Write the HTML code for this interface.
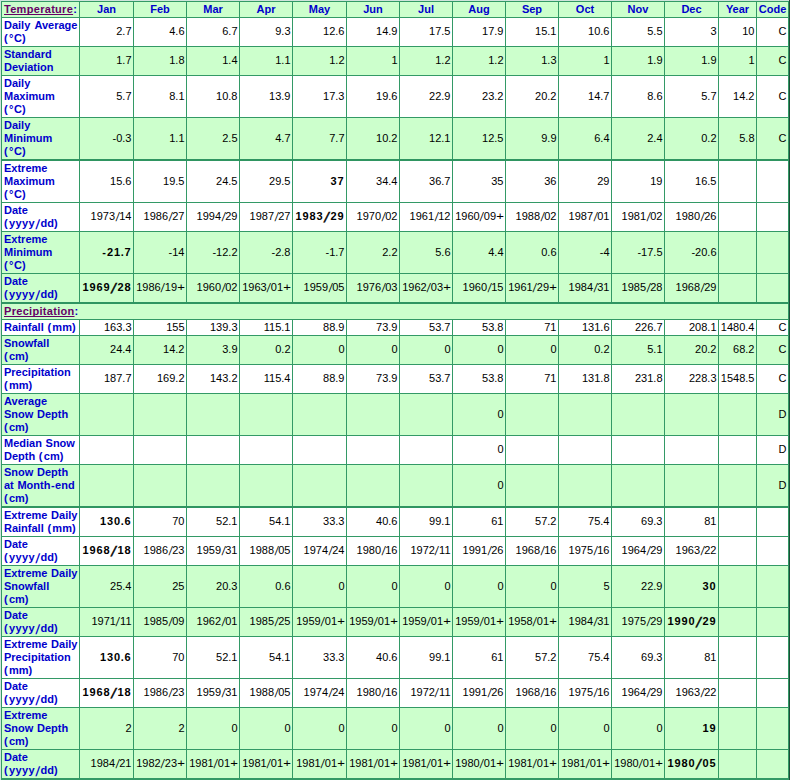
<!DOCTYPE html><html><head><meta charset="utf-8"><title>Climate</title><style>
html,body{margin:0;padding:0;background:#fff;}
body{width:790px;height:780px;overflow:hidden;position:relative;font-family:"Liberation Sans",sans-serif;font-size:11px;line-height:13px;}
#wrap{position:absolute;left:0;top:0;width:790px;height:780px;background:#339966;}
.edgeL{position:absolute;left:0;top:0;width:1px;height:780px;background:#d0e4dc;}
.edgeT{position:absolute;left:0;top:0;width:789px;height:1px;background:#d0e4dc;}
.edgeR{position:absolute;left:789px;top:0;width:1px;height:780px;background:#1d4d38;}
.sep{position:absolute;left:1px;width:788px;height:2px;background:#2f9561;}
.c{position:absolute;overflow:hidden;}
.t{position:absolute;white-space:nowrap;}
.lb{color:#0000cc;font-weight:bold;left:2px;}
.hd{color:#0000cc;font-weight:bold;left:0;right:0;text-align:center;}
.nm{color:#000;right:1.5px;text-align:right;}
.bn{font-weight:bold;right:2px;}
.bn span{display:inline-block;text-align:center;}
.bn .sl2{transform:translateY(1.2px) scaleY(1.25) skewX(-24deg);-webkit-text-stroke:0.5px #000;}
.rs{display:inline-block;margin:0 0.55px;transform:translateY(0.8px) scaleY(1.12) skewX(-10deg);}
.rp{display:inline-block;margin-left:1px;transform:scaleX(1.2);}
.sl{display:inline-block;transform:translateY(1.2px) scaleY(1.22) skewX(-14deg);}
a{color:#660066;text-decoration:underline;text-decoration-skip-ink:none;letter-spacing:0.3px;}
</style></head><body><div id="wrap">
<div class="c" style="left:2px;top:2px;width:77px;height:15px;background:#ccffcc"><div class="t lb" style="top:1px"><a>Temperature</a>:</div></div>
<div class="c" style="left:80px;top:2px;width:53px;height:15px;background:#ccffcc"><div class="t hd" style="top:1px">Jan</div></div>
<div class="c" style="left:134px;top:2px;width:52px;height:15px;background:#ccffcc"><div class="t hd" style="top:1px">Feb</div></div>
<div class="c" style="left:187px;top:2px;width:52px;height:15px;background:#ccffcc"><div class="t hd" style="top:1px">Mar</div></div>
<div class="c" style="left:240px;top:2px;width:52px;height:15px;background:#ccffcc"><div class="t hd" style="top:1px">Apr</div></div>
<div class="c" style="left:293px;top:2px;width:53px;height:15px;background:#ccffcc"><div class="t hd" style="top:1px">May</div></div>
<div class="c" style="left:347px;top:2px;width:52px;height:15px;background:#ccffcc"><div class="t hd" style="top:1px">Jun</div></div>
<div class="c" style="left:400px;top:2px;width:52px;height:15px;background:#ccffcc"><div class="t hd" style="top:1px">Jul</div></div>
<div class="c" style="left:453px;top:2px;width:52px;height:15px;background:#ccffcc"><div class="t hd" style="top:1px">Aug</div></div>
<div class="c" style="left:506px;top:2px;width:52px;height:15px;background:#ccffcc"><div class="t hd" style="top:1px">Sep</div></div>
<div class="c" style="left:559px;top:2px;width:52px;height:15px;background:#ccffcc"><div class="t hd" style="top:1px">Oct</div></div>
<div class="c" style="left:612px;top:2px;width:52px;height:15px;background:#ccffcc"><div class="t hd" style="top:1px">Nov</div></div>
<div class="c" style="left:665px;top:2px;width:53px;height:15px;background:#ccffcc"><div class="t hd" style="top:1px">Dec</div></div>
<div class="c" style="left:719px;top:2px;width:37px;height:15px;background:#ccffcc"><div class="t hd" style="top:1px">Year</div></div>
<div class="c" style="left:757px;top:2px;width:31px;height:15px;background:#ccffcc"><div class="t hd" style="top:1px">Code</div></div>
<div class="c" style="left:2px;top:18px;width:77px;height:28px;background:#ffffff"><div class="t lb" style="top:1px">Dail<span style="letter-spacing:0.4px">y</span><span style="letter-spacing:0.6px"> </span>Average<br><span style="letter-spacing:1.3px">(</span><span style="letter-spacing:0.7px">°</span>C)</div></div>
<div class="c" style="left:80px;top:18px;width:53px;height:28px;background:#ffffff"><div class="t nm" style="top:7px">2.7</div></div>
<div class="c" style="left:134px;top:18px;width:52px;height:28px;background:#ffffff"><div class="t nm" style="top:7px">4.6</div></div>
<div class="c" style="left:187px;top:18px;width:52px;height:28px;background:#ffffff"><div class="t nm" style="top:7px">6.7</div></div>
<div class="c" style="left:240px;top:18px;width:52px;height:28px;background:#ffffff"><div class="t nm" style="top:7px">9.3</div></div>
<div class="c" style="left:293px;top:18px;width:53px;height:28px;background:#ffffff"><div class="t nm" style="top:7px">12.6</div></div>
<div class="c" style="left:347px;top:18px;width:52px;height:28px;background:#ffffff"><div class="t nm" style="top:7px">14.9</div></div>
<div class="c" style="left:400px;top:18px;width:52px;height:28px;background:#ffffff"><div class="t nm" style="top:7px">17.5</div></div>
<div class="c" style="left:453px;top:18px;width:52px;height:28px;background:#ffffff"><div class="t nm" style="top:7px">17.9</div></div>
<div class="c" style="left:506px;top:18px;width:52px;height:28px;background:#ffffff"><div class="t nm" style="top:7px">15.1</div></div>
<div class="c" style="left:559px;top:18px;width:52px;height:28px;background:#ffffff"><div class="t nm" style="top:7px">10.6</div></div>
<div class="c" style="left:612px;top:18px;width:52px;height:28px;background:#ffffff"><div class="t nm" style="top:7px">5.5</div></div>
<div class="c" style="left:665px;top:18px;width:53px;height:28px;background:#ffffff"><div class="t nm" style="top:7px">3</div></div>
<div class="c" style="left:719px;top:18px;width:37px;height:28px;background:#ffffff"><div class="t nm" style="top:7px">10</div></div>
<div class="c" style="left:757px;top:18px;width:31px;height:28px;background:#ffffff"><div class="t nm" style="top:7px">C</div></div>
<div class="c" style="left:2px;top:47px;width:77px;height:28px;background:#ccffcc"><div class="t lb" style="top:1px">Standard<br>Deviation</div></div>
<div class="c" style="left:80px;top:47px;width:53px;height:28px;background:#ccffcc"><div class="t nm" style="top:7px">1.7</div></div>
<div class="c" style="left:134px;top:47px;width:52px;height:28px;background:#ccffcc"><div class="t nm" style="top:7px">1.8</div></div>
<div class="c" style="left:187px;top:47px;width:52px;height:28px;background:#ccffcc"><div class="t nm" style="top:7px">1.4</div></div>
<div class="c" style="left:240px;top:47px;width:52px;height:28px;background:#ccffcc"><div class="t nm" style="top:7px">1.1</div></div>
<div class="c" style="left:293px;top:47px;width:53px;height:28px;background:#ccffcc"><div class="t nm" style="top:7px">1.2</div></div>
<div class="c" style="left:347px;top:47px;width:52px;height:28px;background:#ccffcc"><div class="t nm" style="top:7px">1</div></div>
<div class="c" style="left:400px;top:47px;width:52px;height:28px;background:#ccffcc"><div class="t nm" style="top:7px">1.2</div></div>
<div class="c" style="left:453px;top:47px;width:52px;height:28px;background:#ccffcc"><div class="t nm" style="top:7px">1.2</div></div>
<div class="c" style="left:506px;top:47px;width:52px;height:28px;background:#ccffcc"><div class="t nm" style="top:7px">1.3</div></div>
<div class="c" style="left:559px;top:47px;width:52px;height:28px;background:#ccffcc"><div class="t nm" style="top:7px">1</div></div>
<div class="c" style="left:612px;top:47px;width:52px;height:28px;background:#ccffcc"><div class="t nm" style="top:7px">1.9</div></div>
<div class="c" style="left:665px;top:47px;width:53px;height:28px;background:#ccffcc"><div class="t nm" style="top:7px">1.9</div></div>
<div class="c" style="left:719px;top:47px;width:37px;height:28px;background:#ccffcc"><div class="t nm" style="top:7px">1</div></div>
<div class="c" style="left:757px;top:47px;width:31px;height:28px;background:#ccffcc"><div class="t nm" style="top:7px">C</div></div>
<div class="c" style="left:2px;top:76px;width:77px;height:41px;background:#ffffff"><div class="t lb" style="top:1px">Dail<span style="letter-spacing:0.4px">y</span><br>Maximum<br><span style="letter-spacing:1.3px">(</span><span style="letter-spacing:0.7px">°</span>C)</div></div>
<div class="c" style="left:80px;top:76px;width:53px;height:41px;background:#ffffff"><div class="t nm" style="top:14px">5.7</div></div>
<div class="c" style="left:134px;top:76px;width:52px;height:41px;background:#ffffff"><div class="t nm" style="top:14px">8.1</div></div>
<div class="c" style="left:187px;top:76px;width:52px;height:41px;background:#ffffff"><div class="t nm" style="top:14px">10.8</div></div>
<div class="c" style="left:240px;top:76px;width:52px;height:41px;background:#ffffff"><div class="t nm" style="top:14px">13.9</div></div>
<div class="c" style="left:293px;top:76px;width:53px;height:41px;background:#ffffff"><div class="t nm" style="top:14px">17.3</div></div>
<div class="c" style="left:347px;top:76px;width:52px;height:41px;background:#ffffff"><div class="t nm" style="top:14px">19.6</div></div>
<div class="c" style="left:400px;top:76px;width:52px;height:41px;background:#ffffff"><div class="t nm" style="top:14px">22.9</div></div>
<div class="c" style="left:453px;top:76px;width:52px;height:41px;background:#ffffff"><div class="t nm" style="top:14px">23.2</div></div>
<div class="c" style="left:506px;top:76px;width:52px;height:41px;background:#ffffff"><div class="t nm" style="top:14px">20.2</div></div>
<div class="c" style="left:559px;top:76px;width:52px;height:41px;background:#ffffff"><div class="t nm" style="top:14px">14.7</div></div>
<div class="c" style="left:612px;top:76px;width:52px;height:41px;background:#ffffff"><div class="t nm" style="top:14px">8.6</div></div>
<div class="c" style="left:665px;top:76px;width:53px;height:41px;background:#ffffff"><div class="t nm" style="top:14px">5.7</div></div>
<div class="c" style="left:719px;top:76px;width:37px;height:41px;background:#ffffff"><div class="t nm" style="top:14px">14.2</div></div>
<div class="c" style="left:757px;top:76px;width:31px;height:41px;background:#ffffff"><div class="t nm" style="top:14px">C</div></div>
<div class="c" style="left:2px;top:118px;width:77px;height:41px;background:#ccffcc"><div class="t lb" style="top:1px">Dail<span style="letter-spacing:0.4px">y</span><br>Minimum<br><span style="letter-spacing:1.3px">(</span><span style="letter-spacing:0.7px">°</span>C)</div></div>
<div class="c" style="left:80px;top:118px;width:53px;height:41px;background:#ccffcc"><div class="t nm" style="top:14px">-0.3</div></div>
<div class="c" style="left:134px;top:118px;width:52px;height:41px;background:#ccffcc"><div class="t nm" style="top:14px">1.1</div></div>
<div class="c" style="left:187px;top:118px;width:52px;height:41px;background:#ccffcc"><div class="t nm" style="top:14px">2.5</div></div>
<div class="c" style="left:240px;top:118px;width:52px;height:41px;background:#ccffcc"><div class="t nm" style="top:14px">4.7</div></div>
<div class="c" style="left:293px;top:118px;width:53px;height:41px;background:#ccffcc"><div class="t nm" style="top:14px">7.7</div></div>
<div class="c" style="left:347px;top:118px;width:52px;height:41px;background:#ccffcc"><div class="t nm" style="top:14px">10.2</div></div>
<div class="c" style="left:400px;top:118px;width:52px;height:41px;background:#ccffcc"><div class="t nm" style="top:14px">12.1</div></div>
<div class="c" style="left:453px;top:118px;width:52px;height:41px;background:#ccffcc"><div class="t nm" style="top:14px">12.5</div></div>
<div class="c" style="left:506px;top:118px;width:52px;height:41px;background:#ccffcc"><div class="t nm" style="top:14px">9.9</div></div>
<div class="c" style="left:559px;top:118px;width:52px;height:41px;background:#ccffcc"><div class="t nm" style="top:14px">6.4</div></div>
<div class="c" style="left:612px;top:118px;width:52px;height:41px;background:#ccffcc"><div class="t nm" style="top:14px">2.4</div></div>
<div class="c" style="left:665px;top:118px;width:53px;height:41px;background:#ccffcc"><div class="t nm" style="top:14px">0.2</div></div>
<div class="c" style="left:719px;top:118px;width:37px;height:41px;background:#ccffcc"><div class="t nm" style="top:14px">5.8</div></div>
<div class="c" style="left:757px;top:118px;width:31px;height:41px;background:#ccffcc"><div class="t nm" style="top:14px">C</div></div>
<div class="c" style="left:2px;top:161px;width:77px;height:41px;background:#ffffff"><div class="t lb" style="top:1px">Extreme<br>Maximum<br><span style="letter-spacing:1.3px">(</span><span style="letter-spacing:0.7px">°</span>C)</div></div>
<div class="c" style="left:80px;top:161px;width:53px;height:41px;background:#ffffff"><div class="t nm" style="top:14px">15.6</div></div>
<div class="c" style="left:134px;top:161px;width:52px;height:41px;background:#ffffff"><div class="t nm" style="top:14px">19.5</div></div>
<div class="c" style="left:187px;top:161px;width:52px;height:41px;background:#ffffff"><div class="t nm" style="top:14px">24.5</div></div>
<div class="c" style="left:240px;top:161px;width:52px;height:41px;background:#ffffff"><div class="t nm" style="top:14px">29.5</div></div>
<div class="c" style="left:293px;top:161px;width:53px;height:41px;background:#ffffff"><div class="t nm bn" style="top:14px"><span style="width:7px">3</span><span style="width:7px">7</span></div></div>
<div class="c" style="left:347px;top:161px;width:52px;height:41px;background:#ffffff"><div class="t nm" style="top:14px">34.4</div></div>
<div class="c" style="left:400px;top:161px;width:52px;height:41px;background:#ffffff"><div class="t nm" style="top:14px">36.7</div></div>
<div class="c" style="left:453px;top:161px;width:52px;height:41px;background:#ffffff"><div class="t nm" style="top:14px">35</div></div>
<div class="c" style="left:506px;top:161px;width:52px;height:41px;background:#ffffff"><div class="t nm" style="top:14px">36</div></div>
<div class="c" style="left:559px;top:161px;width:52px;height:41px;background:#ffffff"><div class="t nm" style="top:14px">29</div></div>
<div class="c" style="left:612px;top:161px;width:52px;height:41px;background:#ffffff"><div class="t nm" style="top:14px">19</div></div>
<div class="c" style="left:665px;top:161px;width:53px;height:41px;background:#ffffff"><div class="t nm" style="top:14px">16.5</div></div>
<div class="c" style="left:719px;top:161px;width:37px;height:41px;background:#ffffff"></div>
<div class="c" style="left:757px;top:161px;width:31px;height:41px;background:#ffffff"></div>
<div class="c" style="left:2px;top:203px;width:77px;height:28px;background:#ffffff"><div class="t lb" style="top:1px">Date<br><span style="letter-spacing:1.3px">(</span><span style="letter-spacing:0.4px">y</span><span style="letter-spacing:0.4px">y</span><span style="letter-spacing:0.4px">y</span><span style="letter-spacing:0.4px">y</span><span class="sl" style="margin:0 1.15px">/</span>dd)</div></div>
<div class="c" style="left:80px;top:203px;width:53px;height:28px;background:#ffffff"><div class="t nm" style="top:7px">1973<span class="rs">/</span>14</div></div>
<div class="c" style="left:134px;top:203px;width:52px;height:28px;background:#ffffff"><div class="t nm" style="top:7px">1986<span class="rs">/</span>27</div></div>
<div class="c" style="left:187px;top:203px;width:52px;height:28px;background:#ffffff"><div class="t nm" style="top:7px">1994<span class="rs">/</span>29</div></div>
<div class="c" style="left:240px;top:203px;width:52px;height:28px;background:#ffffff"><div class="t nm" style="top:7px">1987<span class="rs">/</span>27</div></div>
<div class="c" style="left:293px;top:203px;width:53px;height:28px;background:#ffffff"><div class="t nm bn" style="top:7px"><span style="width:7px">1</span><span style="width:7px">9</span><span style="width:7px">8</span><span style="width:7px">3</span><span class="sl2" style="width:7px">/</span><span style="width:7px">2</span><span style="width:7px">9</span></div></div>
<div class="c" style="left:347px;top:203px;width:52px;height:28px;background:#ffffff"><div class="t nm" style="top:7px">1970<span class="rs">/</span>02</div></div>
<div class="c" style="left:400px;top:203px;width:52px;height:28px;background:#ffffff"><div class="t nm" style="top:7px">1961<span class="rs">/</span>12</div></div>
<div class="c" style="left:453px;top:203px;width:52px;height:28px;background:#ffffff"><div class="t nm" style="top:7px">1960<span class="rs">/</span>09<span class="rp">+</span></div></div>
<div class="c" style="left:506px;top:203px;width:52px;height:28px;background:#ffffff"><div class="t nm" style="top:7px">1988<span class="rs">/</span>02</div></div>
<div class="c" style="left:559px;top:203px;width:52px;height:28px;background:#ffffff"><div class="t nm" style="top:7px">1987<span class="rs">/</span>01</div></div>
<div class="c" style="left:612px;top:203px;width:52px;height:28px;background:#ffffff"><div class="t nm" style="top:7px">1981<span class="rs">/</span>02</div></div>
<div class="c" style="left:665px;top:203px;width:53px;height:28px;background:#ffffff"><div class="t nm" style="top:7px">1980<span class="rs">/</span>26</div></div>
<div class="c" style="left:719px;top:203px;width:37px;height:28px;background:#ffffff"></div>
<div class="c" style="left:757px;top:203px;width:31px;height:28px;background:#ffffff"></div>
<div class="c" style="left:2px;top:232px;width:77px;height:41px;background:#ccffcc"><div class="t lb" style="top:1px">Extreme<br>Minimum<br><span style="letter-spacing:1.3px">(</span><span style="letter-spacing:0.7px">°</span>C)</div></div>
<div class="c" style="left:80px;top:232px;width:53px;height:41px;background:#ccffcc"><div class="t nm bn" style="top:14px"><span style="width:5px">-</span><span style="width:7px">2</span><span style="width:7px">1</span><span style="width:3.5px">.</span><span style="width:7px">7</span></div></div>
<div class="c" style="left:134px;top:232px;width:52px;height:41px;background:#ccffcc"><div class="t nm" style="top:14px">-14</div></div>
<div class="c" style="left:187px;top:232px;width:52px;height:41px;background:#ccffcc"><div class="t nm" style="top:14px">-12.2</div></div>
<div class="c" style="left:240px;top:232px;width:52px;height:41px;background:#ccffcc"><div class="t nm" style="top:14px">-2.8</div></div>
<div class="c" style="left:293px;top:232px;width:53px;height:41px;background:#ccffcc"><div class="t nm" style="top:14px">-1.7</div></div>
<div class="c" style="left:347px;top:232px;width:52px;height:41px;background:#ccffcc"><div class="t nm" style="top:14px">2.2</div></div>
<div class="c" style="left:400px;top:232px;width:52px;height:41px;background:#ccffcc"><div class="t nm" style="top:14px">5.6</div></div>
<div class="c" style="left:453px;top:232px;width:52px;height:41px;background:#ccffcc"><div class="t nm" style="top:14px">4.4</div></div>
<div class="c" style="left:506px;top:232px;width:52px;height:41px;background:#ccffcc"><div class="t nm" style="top:14px">0.6</div></div>
<div class="c" style="left:559px;top:232px;width:52px;height:41px;background:#ccffcc"><div class="t nm" style="top:14px">-4</div></div>
<div class="c" style="left:612px;top:232px;width:52px;height:41px;background:#ccffcc"><div class="t nm" style="top:14px">-17.5</div></div>
<div class="c" style="left:665px;top:232px;width:53px;height:41px;background:#ccffcc"><div class="t nm" style="top:14px">-20.6</div></div>
<div class="c" style="left:719px;top:232px;width:37px;height:41px;background:#ccffcc"></div>
<div class="c" style="left:757px;top:232px;width:31px;height:41px;background:#ccffcc"></div>
<div class="c" style="left:2px;top:274px;width:77px;height:28px;background:#ccffcc"><div class="t lb" style="top:1px">Date<br><span style="letter-spacing:1.3px">(</span><span style="letter-spacing:0.4px">y</span><span style="letter-spacing:0.4px">y</span><span style="letter-spacing:0.4px">y</span><span style="letter-spacing:0.4px">y</span><span class="sl" style="margin:0 1.15px">/</span>dd)</div></div>
<div class="c" style="left:80px;top:274px;width:53px;height:28px;background:#ccffcc"><div class="t nm bn" style="top:7px"><span style="width:7px">1</span><span style="width:7px">9</span><span style="width:7px">6</span><span style="width:7px">9</span><span class="sl2" style="width:7px">/</span><span style="width:7px">2</span><span style="width:7px">8</span></div></div>
<div class="c" style="left:134px;top:274px;width:52px;height:28px;background:#ccffcc"><div class="t nm" style="top:7px">1986<span class="rs">/</span>19<span class="rp">+</span></div></div>
<div class="c" style="left:187px;top:274px;width:52px;height:28px;background:#ccffcc"><div class="t nm" style="top:7px">1960<span class="rs">/</span>02</div></div>
<div class="c" style="left:240px;top:274px;width:52px;height:28px;background:#ccffcc"><div class="t nm" style="top:7px">1963<span class="rs">/</span>01<span class="rp">+</span></div></div>
<div class="c" style="left:293px;top:274px;width:53px;height:28px;background:#ccffcc"><div class="t nm" style="top:7px">1959<span class="rs">/</span>05</div></div>
<div class="c" style="left:347px;top:274px;width:52px;height:28px;background:#ccffcc"><div class="t nm" style="top:7px">1976<span class="rs">/</span>03</div></div>
<div class="c" style="left:400px;top:274px;width:52px;height:28px;background:#ccffcc"><div class="t nm" style="top:7px">1962<span class="rs">/</span>03<span class="rp">+</span></div></div>
<div class="c" style="left:453px;top:274px;width:52px;height:28px;background:#ccffcc"><div class="t nm" style="top:7px">1960<span class="rs">/</span>15</div></div>
<div class="c" style="left:506px;top:274px;width:52px;height:28px;background:#ccffcc"><div class="t nm" style="top:7px">1961<span class="rs">/</span>29<span class="rp">+</span></div></div>
<div class="c" style="left:559px;top:274px;width:52px;height:28px;background:#ccffcc"><div class="t nm" style="top:7px">1984<span class="rs">/</span>31</div></div>
<div class="c" style="left:612px;top:274px;width:52px;height:28px;background:#ccffcc"><div class="t nm" style="top:7px">1985<span class="rs">/</span>28</div></div>
<div class="c" style="left:665px;top:274px;width:53px;height:28px;background:#ccffcc"><div class="t nm" style="top:7px">1968<span class="rs">/</span>29</div></div>
<div class="c" style="left:719px;top:274px;width:37px;height:28px;background:#ccffcc"></div>
<div class="c" style="left:757px;top:274px;width:31px;height:28px;background:#ccffcc"></div>
<div class="c" style="left:2px;top:304px;width:786px;height:15px;background:#ccffcc"><div class="t lb" style="top:1px"><a>Precipitation</a>:</div></div>
<div class="c" style="left:2px;top:320px;width:77px;height:15px;background:#ffffff"><div class="t lb" style="top:1px">Rainfall<span style="letter-spacing:0.6px"> </span><span style="letter-spacing:1.3px">(</span>mm)</div></div>
<div class="c" style="left:80px;top:320px;width:53px;height:15px;background:#ffffff"><div class="t nm" style="top:1px">163.3</div></div>
<div class="c" style="left:134px;top:320px;width:52px;height:15px;background:#ffffff"><div class="t nm" style="top:1px">155</div></div>
<div class="c" style="left:187px;top:320px;width:52px;height:15px;background:#ffffff"><div class="t nm" style="top:1px">139.3</div></div>
<div class="c" style="left:240px;top:320px;width:52px;height:15px;background:#ffffff"><div class="t nm" style="top:1px">115.1</div></div>
<div class="c" style="left:293px;top:320px;width:53px;height:15px;background:#ffffff"><div class="t nm" style="top:1px">88.9</div></div>
<div class="c" style="left:347px;top:320px;width:52px;height:15px;background:#ffffff"><div class="t nm" style="top:1px">73.9</div></div>
<div class="c" style="left:400px;top:320px;width:52px;height:15px;background:#ffffff"><div class="t nm" style="top:1px">53.7</div></div>
<div class="c" style="left:453px;top:320px;width:52px;height:15px;background:#ffffff"><div class="t nm" style="top:1px">53.8</div></div>
<div class="c" style="left:506px;top:320px;width:52px;height:15px;background:#ffffff"><div class="t nm" style="top:1px">71</div></div>
<div class="c" style="left:559px;top:320px;width:52px;height:15px;background:#ffffff"><div class="t nm" style="top:1px">131.6</div></div>
<div class="c" style="left:612px;top:320px;width:52px;height:15px;background:#ffffff"><div class="t nm" style="top:1px">226.7</div></div>
<div class="c" style="left:665px;top:320px;width:53px;height:15px;background:#ffffff"><div class="t nm" style="top:1px">208.1</div></div>
<div class="c" style="left:719px;top:320px;width:37px;height:15px;background:#ffffff"><div class="t nm" style="top:1px">1480.4</div></div>
<div class="c" style="left:757px;top:320px;width:31px;height:15px;background:#ffffff"><div class="t nm" style="top:1px">C</div></div>
<div class="c" style="left:2px;top:336px;width:77px;height:28px;background:#ccffcc"><div class="t lb" style="top:1px">Snowfall<br><span style="letter-spacing:1.3px">(</span>cm)</div></div>
<div class="c" style="left:80px;top:336px;width:53px;height:28px;background:#ccffcc"><div class="t nm" style="top:7px">24.4</div></div>
<div class="c" style="left:134px;top:336px;width:52px;height:28px;background:#ccffcc"><div class="t nm" style="top:7px">14.2</div></div>
<div class="c" style="left:187px;top:336px;width:52px;height:28px;background:#ccffcc"><div class="t nm" style="top:7px">3.9</div></div>
<div class="c" style="left:240px;top:336px;width:52px;height:28px;background:#ccffcc"><div class="t nm" style="top:7px">0.2</div></div>
<div class="c" style="left:293px;top:336px;width:53px;height:28px;background:#ccffcc"><div class="t nm" style="top:7px">0</div></div>
<div class="c" style="left:347px;top:336px;width:52px;height:28px;background:#ccffcc"><div class="t nm" style="top:7px">0</div></div>
<div class="c" style="left:400px;top:336px;width:52px;height:28px;background:#ccffcc"><div class="t nm" style="top:7px">0</div></div>
<div class="c" style="left:453px;top:336px;width:52px;height:28px;background:#ccffcc"><div class="t nm" style="top:7px">0</div></div>
<div class="c" style="left:506px;top:336px;width:52px;height:28px;background:#ccffcc"><div class="t nm" style="top:7px">0</div></div>
<div class="c" style="left:559px;top:336px;width:52px;height:28px;background:#ccffcc"><div class="t nm" style="top:7px">0.2</div></div>
<div class="c" style="left:612px;top:336px;width:52px;height:28px;background:#ccffcc"><div class="t nm" style="top:7px">5.1</div></div>
<div class="c" style="left:665px;top:336px;width:53px;height:28px;background:#ccffcc"><div class="t nm" style="top:7px">20.2</div></div>
<div class="c" style="left:719px;top:336px;width:37px;height:28px;background:#ccffcc"><div class="t nm" style="top:7px">68.2</div></div>
<div class="c" style="left:757px;top:336px;width:31px;height:28px;background:#ccffcc"><div class="t nm" style="top:7px">C</div></div>
<div class="c" style="left:2px;top:365px;width:77px;height:28px;background:#ffffff"><div class="t lb" style="top:1px">Precipitation<br><span style="letter-spacing:1.3px">(</span>mm)</div></div>
<div class="c" style="left:80px;top:365px;width:53px;height:28px;background:#ffffff"><div class="t nm" style="top:7px">187.7</div></div>
<div class="c" style="left:134px;top:365px;width:52px;height:28px;background:#ffffff"><div class="t nm" style="top:7px">169.2</div></div>
<div class="c" style="left:187px;top:365px;width:52px;height:28px;background:#ffffff"><div class="t nm" style="top:7px">143.2</div></div>
<div class="c" style="left:240px;top:365px;width:52px;height:28px;background:#ffffff"><div class="t nm" style="top:7px">115.4</div></div>
<div class="c" style="left:293px;top:365px;width:53px;height:28px;background:#ffffff"><div class="t nm" style="top:7px">88.9</div></div>
<div class="c" style="left:347px;top:365px;width:52px;height:28px;background:#ffffff"><div class="t nm" style="top:7px">73.9</div></div>
<div class="c" style="left:400px;top:365px;width:52px;height:28px;background:#ffffff"><div class="t nm" style="top:7px">53.7</div></div>
<div class="c" style="left:453px;top:365px;width:52px;height:28px;background:#ffffff"><div class="t nm" style="top:7px">53.8</div></div>
<div class="c" style="left:506px;top:365px;width:52px;height:28px;background:#ffffff"><div class="t nm" style="top:7px">71</div></div>
<div class="c" style="left:559px;top:365px;width:52px;height:28px;background:#ffffff"><div class="t nm" style="top:7px">131.8</div></div>
<div class="c" style="left:612px;top:365px;width:52px;height:28px;background:#ffffff"><div class="t nm" style="top:7px">231.8</div></div>
<div class="c" style="left:665px;top:365px;width:53px;height:28px;background:#ffffff"><div class="t nm" style="top:7px">228.3</div></div>
<div class="c" style="left:719px;top:365px;width:37px;height:28px;background:#ffffff"><div class="t nm" style="top:7px">1548.5</div></div>
<div class="c" style="left:757px;top:365px;width:31px;height:28px;background:#ffffff"><div class="t nm" style="top:7px">C</div></div>
<div class="c" style="left:2px;top:394px;width:77px;height:41px;background:#ccffcc"><div class="t lb" style="top:1px">Average<br>Snow<span style="letter-spacing:0.6px"> </span>Depth<br><span style="letter-spacing:1.3px">(</span>cm)</div></div>
<div class="c" style="left:80px;top:394px;width:53px;height:41px;background:#ccffcc"></div>
<div class="c" style="left:134px;top:394px;width:52px;height:41px;background:#ccffcc"></div>
<div class="c" style="left:187px;top:394px;width:52px;height:41px;background:#ccffcc"></div>
<div class="c" style="left:240px;top:394px;width:52px;height:41px;background:#ccffcc"></div>
<div class="c" style="left:293px;top:394px;width:53px;height:41px;background:#ccffcc"></div>
<div class="c" style="left:347px;top:394px;width:52px;height:41px;background:#ccffcc"></div>
<div class="c" style="left:400px;top:394px;width:52px;height:41px;background:#ccffcc"></div>
<div class="c" style="left:453px;top:394px;width:52px;height:41px;background:#ccffcc"><div class="t nm" style="top:14px">0</div></div>
<div class="c" style="left:506px;top:394px;width:52px;height:41px;background:#ccffcc"></div>
<div class="c" style="left:559px;top:394px;width:52px;height:41px;background:#ccffcc"></div>
<div class="c" style="left:612px;top:394px;width:52px;height:41px;background:#ccffcc"></div>
<div class="c" style="left:665px;top:394px;width:53px;height:41px;background:#ccffcc"></div>
<div class="c" style="left:719px;top:394px;width:37px;height:41px;background:#ccffcc"></div>
<div class="c" style="left:757px;top:394px;width:31px;height:41px;background:#ccffcc"><div class="t nm" style="top:14px">D</div></div>
<div class="c" style="left:2px;top:436px;width:77px;height:28px;background:#ffffff"><div class="t lb" style="top:1px">Median<span style="letter-spacing:0.6px"> </span>Snow<br>Depth<span style="letter-spacing:0.6px"> </span><span style="letter-spacing:1.3px">(</span>cm)</div></div>
<div class="c" style="left:80px;top:436px;width:53px;height:28px;background:#ffffff"></div>
<div class="c" style="left:134px;top:436px;width:52px;height:28px;background:#ffffff"></div>
<div class="c" style="left:187px;top:436px;width:52px;height:28px;background:#ffffff"></div>
<div class="c" style="left:240px;top:436px;width:52px;height:28px;background:#ffffff"></div>
<div class="c" style="left:293px;top:436px;width:53px;height:28px;background:#ffffff"></div>
<div class="c" style="left:347px;top:436px;width:52px;height:28px;background:#ffffff"></div>
<div class="c" style="left:400px;top:436px;width:52px;height:28px;background:#ffffff"></div>
<div class="c" style="left:453px;top:436px;width:52px;height:28px;background:#ffffff"><div class="t nm" style="top:7px">0</div></div>
<div class="c" style="left:506px;top:436px;width:52px;height:28px;background:#ffffff"></div>
<div class="c" style="left:559px;top:436px;width:52px;height:28px;background:#ffffff"></div>
<div class="c" style="left:612px;top:436px;width:52px;height:28px;background:#ffffff"></div>
<div class="c" style="left:665px;top:436px;width:53px;height:28px;background:#ffffff"></div>
<div class="c" style="left:719px;top:436px;width:37px;height:28px;background:#ffffff"></div>
<div class="c" style="left:757px;top:436px;width:31px;height:28px;background:#ffffff"><div class="t nm" style="top:7px">D</div></div>
<div class="c" style="left:2px;top:465px;width:77px;height:41px;background:#ccffcc"><div class="t lb" style="top:1px">Snow<span style="letter-spacing:0.6px"> </span>Depth<br>at<span style="letter-spacing:0.6px"> </span>Month<span style="margin:0 0.5px">-</span>end<br><span style="letter-spacing:1.3px">(</span>cm)</div></div>
<div class="c" style="left:80px;top:465px;width:53px;height:41px;background:#ccffcc"></div>
<div class="c" style="left:134px;top:465px;width:52px;height:41px;background:#ccffcc"></div>
<div class="c" style="left:187px;top:465px;width:52px;height:41px;background:#ccffcc"></div>
<div class="c" style="left:240px;top:465px;width:52px;height:41px;background:#ccffcc"></div>
<div class="c" style="left:293px;top:465px;width:53px;height:41px;background:#ccffcc"></div>
<div class="c" style="left:347px;top:465px;width:52px;height:41px;background:#ccffcc"></div>
<div class="c" style="left:400px;top:465px;width:52px;height:41px;background:#ccffcc"></div>
<div class="c" style="left:453px;top:465px;width:52px;height:41px;background:#ccffcc"><div class="t nm" style="top:14px">0</div></div>
<div class="c" style="left:506px;top:465px;width:52px;height:41px;background:#ccffcc"></div>
<div class="c" style="left:559px;top:465px;width:52px;height:41px;background:#ccffcc"></div>
<div class="c" style="left:612px;top:465px;width:52px;height:41px;background:#ccffcc"></div>
<div class="c" style="left:665px;top:465px;width:53px;height:41px;background:#ccffcc"></div>
<div class="c" style="left:719px;top:465px;width:37px;height:41px;background:#ccffcc"></div>
<div class="c" style="left:757px;top:465px;width:31px;height:41px;background:#ccffcc"><div class="t nm" style="top:14px">D</div></div>
<div class="c" style="left:2px;top:508px;width:77px;height:28px;background:#ffffff"><div class="t lb" style="top:1px">Extreme<span style="letter-spacing:0.6px"> </span>Dail<span style="letter-spacing:0.4px">y</span><br>Rainfall<span style="letter-spacing:0.6px"> </span><span style="letter-spacing:1.3px">(</span>mm)</div></div>
<div class="c" style="left:80px;top:508px;width:53px;height:28px;background:#ffffff"><div class="t nm bn" style="top:7px"><span style="width:7px">1</span><span style="width:7px">3</span><span style="width:7px">0</span><span style="width:3.5px">.</span><span style="width:7px">6</span></div></div>
<div class="c" style="left:134px;top:508px;width:52px;height:28px;background:#ffffff"><div class="t nm" style="top:7px">70</div></div>
<div class="c" style="left:187px;top:508px;width:52px;height:28px;background:#ffffff"><div class="t nm" style="top:7px">52.1</div></div>
<div class="c" style="left:240px;top:508px;width:52px;height:28px;background:#ffffff"><div class="t nm" style="top:7px">54.1</div></div>
<div class="c" style="left:293px;top:508px;width:53px;height:28px;background:#ffffff"><div class="t nm" style="top:7px">33.3</div></div>
<div class="c" style="left:347px;top:508px;width:52px;height:28px;background:#ffffff"><div class="t nm" style="top:7px">40.6</div></div>
<div class="c" style="left:400px;top:508px;width:52px;height:28px;background:#ffffff"><div class="t nm" style="top:7px">99.1</div></div>
<div class="c" style="left:453px;top:508px;width:52px;height:28px;background:#ffffff"><div class="t nm" style="top:7px">61</div></div>
<div class="c" style="left:506px;top:508px;width:52px;height:28px;background:#ffffff"><div class="t nm" style="top:7px">57.2</div></div>
<div class="c" style="left:559px;top:508px;width:52px;height:28px;background:#ffffff"><div class="t nm" style="top:7px">75.4</div></div>
<div class="c" style="left:612px;top:508px;width:52px;height:28px;background:#ffffff"><div class="t nm" style="top:7px">69.3</div></div>
<div class="c" style="left:665px;top:508px;width:53px;height:28px;background:#ffffff"><div class="t nm" style="top:7px">81</div></div>
<div class="c" style="left:719px;top:508px;width:37px;height:28px;background:#ffffff"></div>
<div class="c" style="left:757px;top:508px;width:31px;height:28px;background:#ffffff"></div>
<div class="c" style="left:2px;top:537px;width:77px;height:28px;background:#ffffff"><div class="t lb" style="top:1px">Date<br><span style="letter-spacing:1.3px">(</span><span style="letter-spacing:0.4px">y</span><span style="letter-spacing:0.4px">y</span><span style="letter-spacing:0.4px">y</span><span style="letter-spacing:0.4px">y</span><span class="sl" style="margin:0 1.15px">/</span>dd)</div></div>
<div class="c" style="left:80px;top:537px;width:53px;height:28px;background:#ffffff"><div class="t nm bn" style="top:7px"><span style="width:7px">1</span><span style="width:7px">9</span><span style="width:7px">6</span><span style="width:7px">8</span><span class="sl2" style="width:7px">/</span><span style="width:7px">1</span><span style="width:7px">8</span></div></div>
<div class="c" style="left:134px;top:537px;width:52px;height:28px;background:#ffffff"><div class="t nm" style="top:7px">1986<span class="rs">/</span>23</div></div>
<div class="c" style="left:187px;top:537px;width:52px;height:28px;background:#ffffff"><div class="t nm" style="top:7px">1959<span class="rs">/</span>31</div></div>
<div class="c" style="left:240px;top:537px;width:52px;height:28px;background:#ffffff"><div class="t nm" style="top:7px">1988<span class="rs">/</span>05</div></div>
<div class="c" style="left:293px;top:537px;width:53px;height:28px;background:#ffffff"><div class="t nm" style="top:7px">1974<span class="rs">/</span>24</div></div>
<div class="c" style="left:347px;top:537px;width:52px;height:28px;background:#ffffff"><div class="t nm" style="top:7px">1980<span class="rs">/</span>16</div></div>
<div class="c" style="left:400px;top:537px;width:52px;height:28px;background:#ffffff"><div class="t nm" style="top:7px">1972<span class="rs">/</span>11</div></div>
<div class="c" style="left:453px;top:537px;width:52px;height:28px;background:#ffffff"><div class="t nm" style="top:7px">1991<span class="rs">/</span>26</div></div>
<div class="c" style="left:506px;top:537px;width:52px;height:28px;background:#ffffff"><div class="t nm" style="top:7px">1968<span class="rs">/</span>16</div></div>
<div class="c" style="left:559px;top:537px;width:52px;height:28px;background:#ffffff"><div class="t nm" style="top:7px">1975<span class="rs">/</span>16</div></div>
<div class="c" style="left:612px;top:537px;width:52px;height:28px;background:#ffffff"><div class="t nm" style="top:7px">1964<span class="rs">/</span>29</div></div>
<div class="c" style="left:665px;top:537px;width:53px;height:28px;background:#ffffff"><div class="t nm" style="top:7px">1963<span class="rs">/</span>22</div></div>
<div class="c" style="left:719px;top:537px;width:37px;height:28px;background:#ffffff"></div>
<div class="c" style="left:757px;top:537px;width:31px;height:28px;background:#ffffff"></div>
<div class="c" style="left:2px;top:566px;width:77px;height:41px;background:#ccffcc"><div class="t lb" style="top:1px">Extreme<span style="letter-spacing:0.6px"> </span>Dail<span style="letter-spacing:0.4px">y</span><br>Snowfall<br><span style="letter-spacing:1.3px">(</span>cm)</div></div>
<div class="c" style="left:80px;top:566px;width:53px;height:41px;background:#ccffcc"><div class="t nm" style="top:14px">25.4</div></div>
<div class="c" style="left:134px;top:566px;width:52px;height:41px;background:#ccffcc"><div class="t nm" style="top:14px">25</div></div>
<div class="c" style="left:187px;top:566px;width:52px;height:41px;background:#ccffcc"><div class="t nm" style="top:14px">20.3</div></div>
<div class="c" style="left:240px;top:566px;width:52px;height:41px;background:#ccffcc"><div class="t nm" style="top:14px">0.6</div></div>
<div class="c" style="left:293px;top:566px;width:53px;height:41px;background:#ccffcc"><div class="t nm" style="top:14px">0</div></div>
<div class="c" style="left:347px;top:566px;width:52px;height:41px;background:#ccffcc"><div class="t nm" style="top:14px">0</div></div>
<div class="c" style="left:400px;top:566px;width:52px;height:41px;background:#ccffcc"><div class="t nm" style="top:14px">0</div></div>
<div class="c" style="left:453px;top:566px;width:52px;height:41px;background:#ccffcc"><div class="t nm" style="top:14px">0</div></div>
<div class="c" style="left:506px;top:566px;width:52px;height:41px;background:#ccffcc"><div class="t nm" style="top:14px">0</div></div>
<div class="c" style="left:559px;top:566px;width:52px;height:41px;background:#ccffcc"><div class="t nm" style="top:14px">5</div></div>
<div class="c" style="left:612px;top:566px;width:52px;height:41px;background:#ccffcc"><div class="t nm" style="top:14px">22.9</div></div>
<div class="c" style="left:665px;top:566px;width:53px;height:41px;background:#ccffcc"><div class="t nm bn" style="top:14px"><span style="width:7px">3</span><span style="width:7px">0</span></div></div>
<div class="c" style="left:719px;top:566px;width:37px;height:41px;background:#ccffcc"></div>
<div class="c" style="left:757px;top:566px;width:31px;height:41px;background:#ccffcc"></div>
<div class="c" style="left:2px;top:608px;width:77px;height:28px;background:#ccffcc"><div class="t lb" style="top:1px">Date<br><span style="letter-spacing:1.3px">(</span><span style="letter-spacing:0.4px">y</span><span style="letter-spacing:0.4px">y</span><span style="letter-spacing:0.4px">y</span><span style="letter-spacing:0.4px">y</span><span class="sl" style="margin:0 1.15px">/</span>dd)</div></div>
<div class="c" style="left:80px;top:608px;width:53px;height:28px;background:#ccffcc"><div class="t nm" style="top:7px">1971<span class="rs">/</span>11</div></div>
<div class="c" style="left:134px;top:608px;width:52px;height:28px;background:#ccffcc"><div class="t nm" style="top:7px">1985<span class="rs">/</span>09</div></div>
<div class="c" style="left:187px;top:608px;width:52px;height:28px;background:#ccffcc"><div class="t nm" style="top:7px">1962<span class="rs">/</span>01</div></div>
<div class="c" style="left:240px;top:608px;width:52px;height:28px;background:#ccffcc"><div class="t nm" style="top:7px">1985<span class="rs">/</span>25</div></div>
<div class="c" style="left:293px;top:608px;width:53px;height:28px;background:#ccffcc"><div class="t nm" style="top:7px">1959<span class="rs">/</span>01<span class="rp">+</span></div></div>
<div class="c" style="left:347px;top:608px;width:52px;height:28px;background:#ccffcc"><div class="t nm" style="top:7px">1959<span class="rs">/</span>01<span class="rp">+</span></div></div>
<div class="c" style="left:400px;top:608px;width:52px;height:28px;background:#ccffcc"><div class="t nm" style="top:7px">1959<span class="rs">/</span>01<span class="rp">+</span></div></div>
<div class="c" style="left:453px;top:608px;width:52px;height:28px;background:#ccffcc"><div class="t nm" style="top:7px">1959<span class="rs">/</span>01<span class="rp">+</span></div></div>
<div class="c" style="left:506px;top:608px;width:52px;height:28px;background:#ccffcc"><div class="t nm" style="top:7px">1958<span class="rs">/</span>01<span class="rp">+</span></div></div>
<div class="c" style="left:559px;top:608px;width:52px;height:28px;background:#ccffcc"><div class="t nm" style="top:7px">1984<span class="rs">/</span>31</div></div>
<div class="c" style="left:612px;top:608px;width:52px;height:28px;background:#ccffcc"><div class="t nm" style="top:7px">1975<span class="rs">/</span>29</div></div>
<div class="c" style="left:665px;top:608px;width:53px;height:28px;background:#ccffcc"><div class="t nm bn" style="top:7px"><span style="width:7px">1</span><span style="width:7px">9</span><span style="width:7px">9</span><span style="width:7px">0</span><span class="sl2" style="width:7px">/</span><span style="width:7px">2</span><span style="width:7px">9</span></div></div>
<div class="c" style="left:719px;top:608px;width:37px;height:28px;background:#ccffcc"></div>
<div class="c" style="left:757px;top:608px;width:31px;height:28px;background:#ccffcc"></div>
<div class="c" style="left:2px;top:637px;width:77px;height:41px;background:#ffffff"><div class="t lb" style="top:1px">Extreme<span style="letter-spacing:0.6px"> </span>Dail<span style="letter-spacing:0.4px">y</span><br>Precipitation<br><span style="letter-spacing:1.3px">(</span>mm)</div></div>
<div class="c" style="left:80px;top:637px;width:53px;height:41px;background:#ffffff"><div class="t nm bn" style="top:14px"><span style="width:7px">1</span><span style="width:7px">3</span><span style="width:7px">0</span><span style="width:3.5px">.</span><span style="width:7px">6</span></div></div>
<div class="c" style="left:134px;top:637px;width:52px;height:41px;background:#ffffff"><div class="t nm" style="top:14px">70</div></div>
<div class="c" style="left:187px;top:637px;width:52px;height:41px;background:#ffffff"><div class="t nm" style="top:14px">52.1</div></div>
<div class="c" style="left:240px;top:637px;width:52px;height:41px;background:#ffffff"><div class="t nm" style="top:14px">54.1</div></div>
<div class="c" style="left:293px;top:637px;width:53px;height:41px;background:#ffffff"><div class="t nm" style="top:14px">33.3</div></div>
<div class="c" style="left:347px;top:637px;width:52px;height:41px;background:#ffffff"><div class="t nm" style="top:14px">40.6</div></div>
<div class="c" style="left:400px;top:637px;width:52px;height:41px;background:#ffffff"><div class="t nm" style="top:14px">99.1</div></div>
<div class="c" style="left:453px;top:637px;width:52px;height:41px;background:#ffffff"><div class="t nm" style="top:14px">61</div></div>
<div class="c" style="left:506px;top:637px;width:52px;height:41px;background:#ffffff"><div class="t nm" style="top:14px">57.2</div></div>
<div class="c" style="left:559px;top:637px;width:52px;height:41px;background:#ffffff"><div class="t nm" style="top:14px">75.4</div></div>
<div class="c" style="left:612px;top:637px;width:52px;height:41px;background:#ffffff"><div class="t nm" style="top:14px">69.3</div></div>
<div class="c" style="left:665px;top:637px;width:53px;height:41px;background:#ffffff"><div class="t nm" style="top:14px">81</div></div>
<div class="c" style="left:719px;top:637px;width:37px;height:41px;background:#ffffff"></div>
<div class="c" style="left:757px;top:637px;width:31px;height:41px;background:#ffffff"></div>
<div class="c" style="left:2px;top:679px;width:77px;height:28px;background:#ffffff"><div class="t lb" style="top:1px">Date<br><span style="letter-spacing:1.3px">(</span><span style="letter-spacing:0.4px">y</span><span style="letter-spacing:0.4px">y</span><span style="letter-spacing:0.4px">y</span><span style="letter-spacing:0.4px">y</span><span class="sl" style="margin:0 1.15px">/</span>dd)</div></div>
<div class="c" style="left:80px;top:679px;width:53px;height:28px;background:#ffffff"><div class="t nm bn" style="top:7px"><span style="width:7px">1</span><span style="width:7px">9</span><span style="width:7px">6</span><span style="width:7px">8</span><span class="sl2" style="width:7px">/</span><span style="width:7px">1</span><span style="width:7px">8</span></div></div>
<div class="c" style="left:134px;top:679px;width:52px;height:28px;background:#ffffff"><div class="t nm" style="top:7px">1986<span class="rs">/</span>23</div></div>
<div class="c" style="left:187px;top:679px;width:52px;height:28px;background:#ffffff"><div class="t nm" style="top:7px">1959<span class="rs">/</span>31</div></div>
<div class="c" style="left:240px;top:679px;width:52px;height:28px;background:#ffffff"><div class="t nm" style="top:7px">1988<span class="rs">/</span>05</div></div>
<div class="c" style="left:293px;top:679px;width:53px;height:28px;background:#ffffff"><div class="t nm" style="top:7px">1974<span class="rs">/</span>24</div></div>
<div class="c" style="left:347px;top:679px;width:52px;height:28px;background:#ffffff"><div class="t nm" style="top:7px">1980<span class="rs">/</span>16</div></div>
<div class="c" style="left:400px;top:679px;width:52px;height:28px;background:#ffffff"><div class="t nm" style="top:7px">1972<span class="rs">/</span>11</div></div>
<div class="c" style="left:453px;top:679px;width:52px;height:28px;background:#ffffff"><div class="t nm" style="top:7px">1991<span class="rs">/</span>26</div></div>
<div class="c" style="left:506px;top:679px;width:52px;height:28px;background:#ffffff"><div class="t nm" style="top:7px">1968<span class="rs">/</span>16</div></div>
<div class="c" style="left:559px;top:679px;width:52px;height:28px;background:#ffffff"><div class="t nm" style="top:7px">1975<span class="rs">/</span>16</div></div>
<div class="c" style="left:612px;top:679px;width:52px;height:28px;background:#ffffff"><div class="t nm" style="top:7px">1964<span class="rs">/</span>29</div></div>
<div class="c" style="left:665px;top:679px;width:53px;height:28px;background:#ffffff"><div class="t nm" style="top:7px">1963<span class="rs">/</span>22</div></div>
<div class="c" style="left:719px;top:679px;width:37px;height:28px;background:#ffffff"></div>
<div class="c" style="left:757px;top:679px;width:31px;height:28px;background:#ffffff"></div>
<div class="c" style="left:2px;top:708px;width:77px;height:41px;background:#ccffcc"><div class="t lb" style="top:1px">Extreme<br>Snow<span style="letter-spacing:0.6px"> </span>Depth<br><span style="letter-spacing:1.3px">(</span>cm)</div></div>
<div class="c" style="left:80px;top:708px;width:53px;height:41px;background:#ccffcc"><div class="t nm" style="top:14px">2</div></div>
<div class="c" style="left:134px;top:708px;width:52px;height:41px;background:#ccffcc"><div class="t nm" style="top:14px">2</div></div>
<div class="c" style="left:187px;top:708px;width:52px;height:41px;background:#ccffcc"><div class="t nm" style="top:14px">0</div></div>
<div class="c" style="left:240px;top:708px;width:52px;height:41px;background:#ccffcc"><div class="t nm" style="top:14px">0</div></div>
<div class="c" style="left:293px;top:708px;width:53px;height:41px;background:#ccffcc"><div class="t nm" style="top:14px">0</div></div>
<div class="c" style="left:347px;top:708px;width:52px;height:41px;background:#ccffcc"><div class="t nm" style="top:14px">0</div></div>
<div class="c" style="left:400px;top:708px;width:52px;height:41px;background:#ccffcc"><div class="t nm" style="top:14px">0</div></div>
<div class="c" style="left:453px;top:708px;width:52px;height:41px;background:#ccffcc"><div class="t nm" style="top:14px">0</div></div>
<div class="c" style="left:506px;top:708px;width:52px;height:41px;background:#ccffcc"><div class="t nm" style="top:14px">0</div></div>
<div class="c" style="left:559px;top:708px;width:52px;height:41px;background:#ccffcc"><div class="t nm" style="top:14px">0</div></div>
<div class="c" style="left:612px;top:708px;width:52px;height:41px;background:#ccffcc"><div class="t nm" style="top:14px">0</div></div>
<div class="c" style="left:665px;top:708px;width:53px;height:41px;background:#ccffcc"><div class="t nm bn" style="top:14px"><span style="width:7px">1</span><span style="width:7px">9</span></div></div>
<div class="c" style="left:719px;top:708px;width:37px;height:41px;background:#ccffcc"></div>
<div class="c" style="left:757px;top:708px;width:31px;height:41px;background:#ccffcc"></div>
<div class="c" style="left:2px;top:750px;width:77px;height:28px;background:#ccffcc"><div class="t lb" style="top:1px">Date<br><span style="letter-spacing:1.3px">(</span><span style="letter-spacing:0.4px">y</span><span style="letter-spacing:0.4px">y</span><span style="letter-spacing:0.4px">y</span><span style="letter-spacing:0.4px">y</span><span class="sl" style="margin:0 1.15px">/</span>dd)</div></div>
<div class="c" style="left:80px;top:750px;width:53px;height:28px;background:#ccffcc"><div class="t nm" style="top:7px">1984<span class="rs">/</span>21</div></div>
<div class="c" style="left:134px;top:750px;width:52px;height:28px;background:#ccffcc"><div class="t nm" style="top:7px">1982<span class="rs">/</span>23<span class="rp">+</span></div></div>
<div class="c" style="left:187px;top:750px;width:52px;height:28px;background:#ccffcc"><div class="t nm" style="top:7px">1981<span class="rs">/</span>01<span class="rp">+</span></div></div>
<div class="c" style="left:240px;top:750px;width:52px;height:28px;background:#ccffcc"><div class="t nm" style="top:7px">1981<span class="rs">/</span>01<span class="rp">+</span></div></div>
<div class="c" style="left:293px;top:750px;width:53px;height:28px;background:#ccffcc"><div class="t nm" style="top:7px">1981<span class="rs">/</span>01<span class="rp">+</span></div></div>
<div class="c" style="left:347px;top:750px;width:52px;height:28px;background:#ccffcc"><div class="t nm" style="top:7px">1981<span class="rs">/</span>01<span class="rp">+</span></div></div>
<div class="c" style="left:400px;top:750px;width:52px;height:28px;background:#ccffcc"><div class="t nm" style="top:7px">1981<span class="rs">/</span>01<span class="rp">+</span></div></div>
<div class="c" style="left:453px;top:750px;width:52px;height:28px;background:#ccffcc"><div class="t nm" style="top:7px">1980<span class="rs">/</span>01<span class="rp">+</span></div></div>
<div class="c" style="left:506px;top:750px;width:52px;height:28px;background:#ccffcc"><div class="t nm" style="top:7px">1981<span class="rs">/</span>01<span class="rp">+</span></div></div>
<div class="c" style="left:559px;top:750px;width:52px;height:28px;background:#ccffcc"><div class="t nm" style="top:7px">1981<span class="rs">/</span>01<span class="rp">+</span></div></div>
<div class="c" style="left:612px;top:750px;width:52px;height:28px;background:#ccffcc"><div class="t nm" style="top:7px">1980<span class="rs">/</span>01<span class="rp">+</span></div></div>
<div class="c" style="left:665px;top:750px;width:53px;height:28px;background:#ccffcc"><div class="t nm bn" style="top:7px"><span style="width:7px">1</span><span style="width:7px">9</span><span style="width:7px">8</span><span style="width:7px">0</span><span class="sl2" style="width:7px">/</span><span style="width:7px">0</span><span style="width:7px">5</span></div></div>
<div class="c" style="left:719px;top:750px;width:37px;height:28px;background:#ccffcc"></div>
<div class="c" style="left:757px;top:750px;width:31px;height:28px;background:#ccffcc"></div>
<div class="sep" style="top:159px"></div>
<div class="sep" style="top:302px"></div>
<div class="sep" style="top:506px"></div>
<div class="edgeL"></div><div class="edgeT"></div><div class="edgeR"></div>
</div></body></html>
